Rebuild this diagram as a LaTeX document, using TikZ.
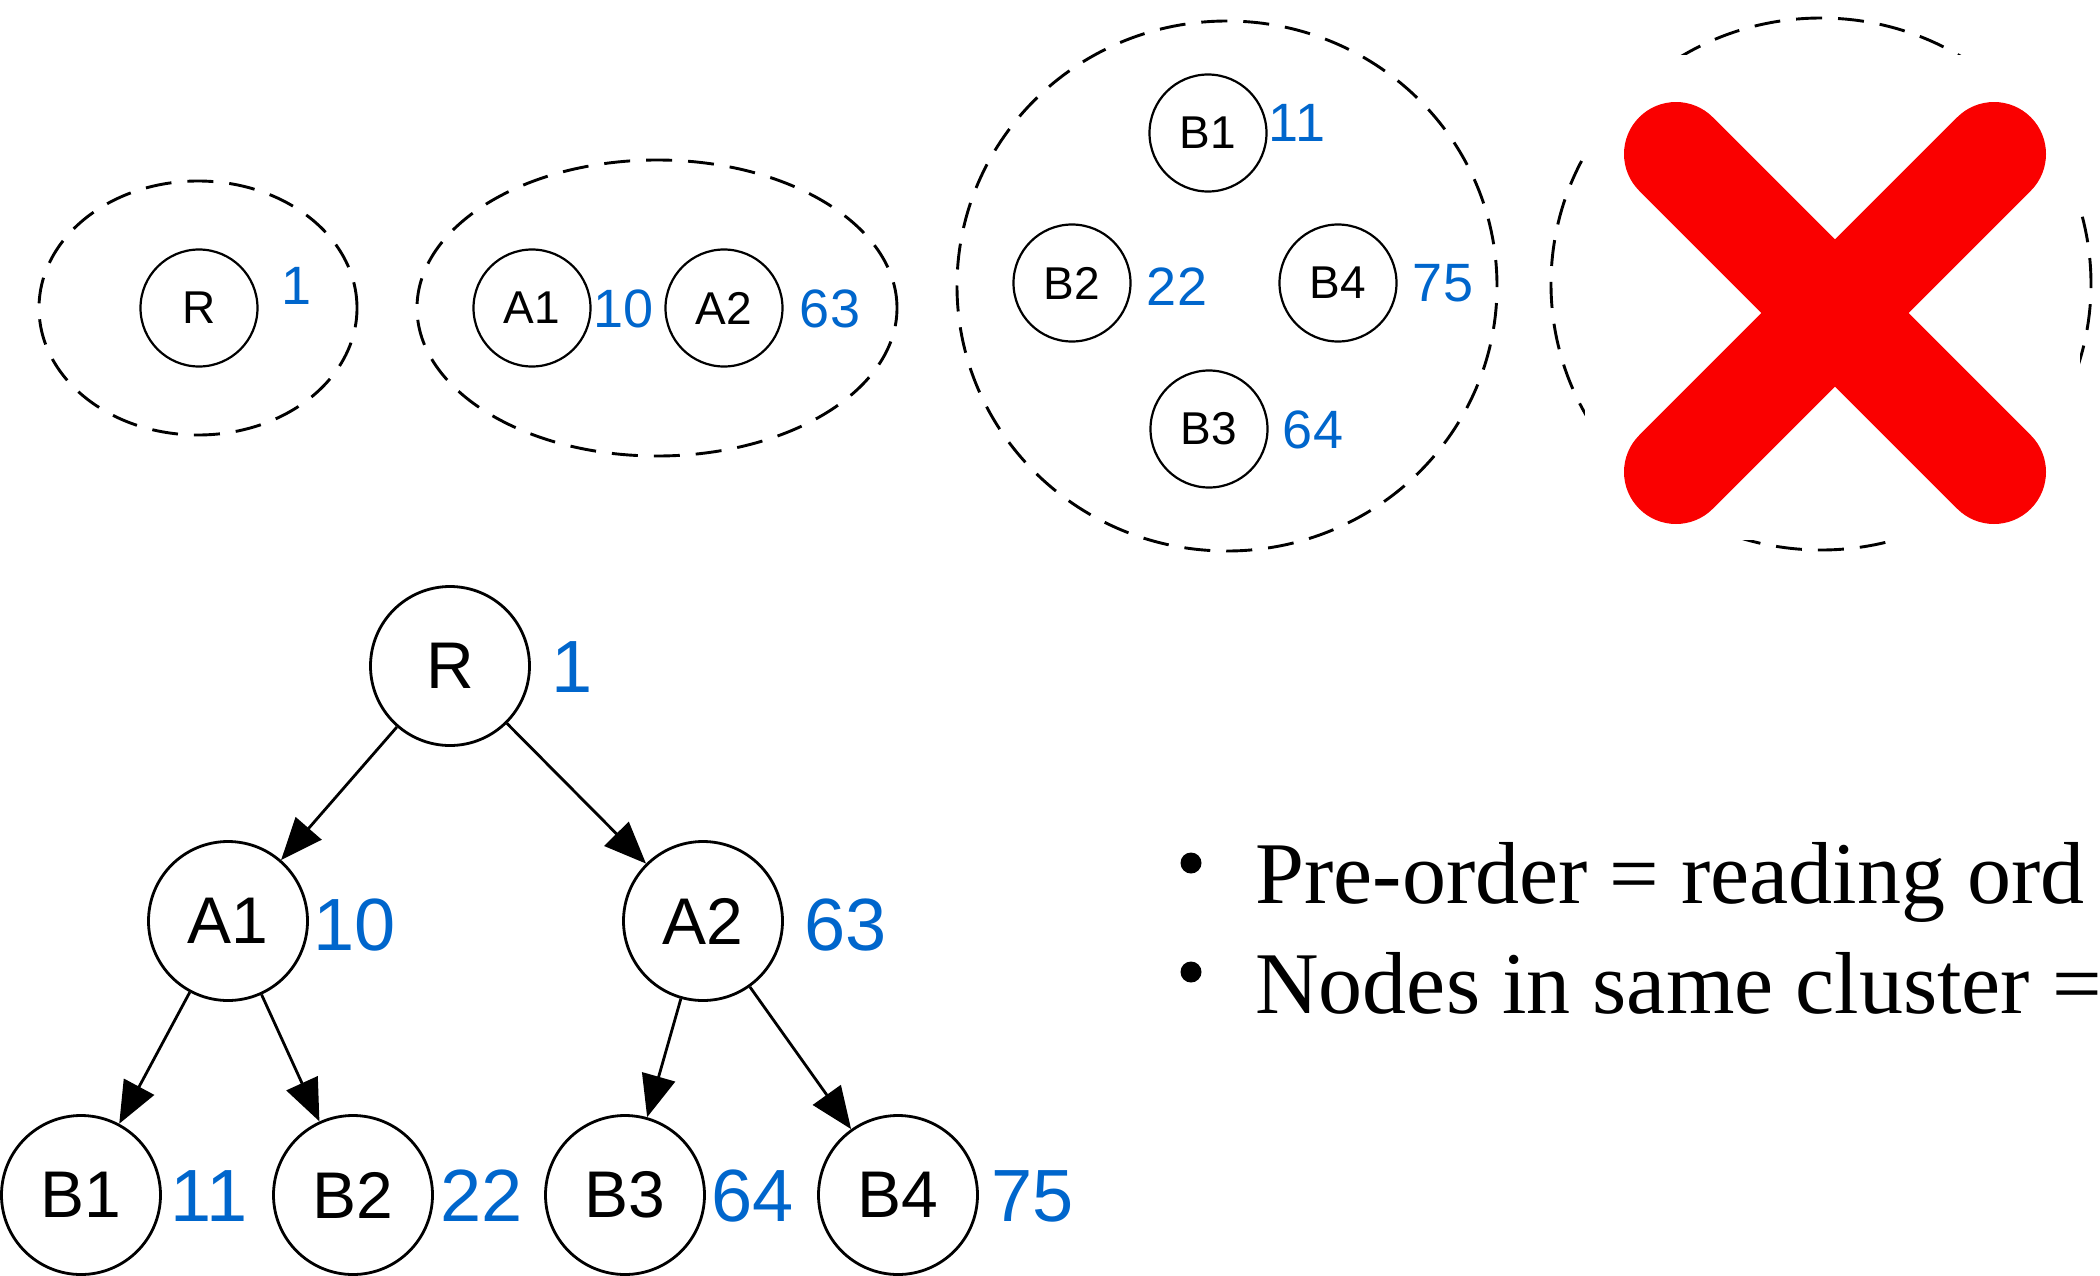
\documentclass[tikz,border=0pt]{standalone}
\usepackage{fontspec}
\setmainfont{Liberation Serif}
\newfontfamily\arialf{Liberation Sans}
\usetikzlibrary{shapes.geometric,arrows.meta}
\definecolor{numblue}{HTML}{0066CC}
\definecolor{xred}{HTML}{FA0000}
\begin{document}
\begin{tikzpicture}[x=0.5pt,y=-0.5pt,
  smallnode/.style={circle,draw,line width=1.1pt,minimum size=58.5pt,inner sep=0pt,font=\arialf\fontsize{23pt}{23pt}\selectfont},
  smallnum/.style={inner sep=0pt,text=numblue,font=\arialf\fontsize{27pt}{27pt}\selectfont},
  bignode/.style={circle,draw,line width=1.4pt,minimum size=79.5pt,inner sep=0pt,font=\arialf\fontsize{33pt}{33pt}\selectfont},
  bignum/.style={inner sep=0pt,text=numblue,font=\arialf\fontsize{37pt}{37pt}\selectfont},
  cluster/.style={ellipse,draw,line width=1.45pt,dash pattern=on 13pt off 8pt,inner sep=0pt},
  edge/.style={line width=1.4pt,-{Triangle[length=21pt,width=17pt]}},
  bullettext/.style={inner sep=0pt,anchor=base west,font=\fontsize{44pt}{44pt}\selectfont},
  bulletdot/.style={circle,fill=black,inner sep=0pt,minimum size=10.5pt}]
\useasboundingbox (0,0) rectangle (2100,1275);
\fill[white] (0,0) rectangle (2100,1275);

% ---- top row: clusters ----
\node[cluster,minimum width=159pt,minimum height=127pt] (cl1) at (198,308) {};
\node[smallnode] (r0) at (199,308) {R};
\node[smallnum] (r0n) at (297,286) {1};

\node[cluster,minimum width=240pt,minimum height=148pt] (cl2) at (657,308) {};
\node[smallnode] (a10) at (532,308) {A1};
\node[smallnum] (a10n) at (624,309) {10};
\node[smallnode] (a20) at (724,308) {A2};
\node[smallnum] (a20n) at (830,309) {63};

\node[cluster,minimum width=270pt,minimum height=265pt] (cl3) at (1227,286) {};
\node[smallnode] (b10) at (1208,133) {B1};
\node[smallnum] (b10n) at (1297,123) {11};
\node[smallnode] (b20) at (1072,283) {B2};
\node[smallnum] (b20n) at (1177,287) {22};
\node[smallnode] (b40) at (1338,283) {B4};
\node[smallnum] (b40n) at (1443,283) {75};
\node[smallnode] (b30) at (1209,429) {B3};
\node[smallnum] (b30n) at (1313,430) {64};

\node[cluster,minimum width=270pt,minimum height=266pt] (cl4) at (1821,284) {};
\fill[white] (1585,55) rectangle (2080,540);
\draw[xred,line width=52pt,line cap=round] (1676,154) -- (1994,472);
\draw[xred,line width=52pt,line cap=round] (1676,472) -- (1994,154);

% ---- tree ----
\node[bignode] (R) at (450,666) {R};
\node[bignum] (Rn) at (572,667) {1};
\node[bignode] (A1) at (228,921) {A1};
\node[bignum] (A1n) at (355,925) {10};
\node[bignode] (A2) at (703,921) {A2};
\node[bignum] (A2n) at (846,925) {63};
\node[bignode] (B1) at (81,1195) {B1};
\node[bignum] (B1n) at (209,1196) {11};
\node[bignode] (B2) at (353,1195) {B2};
\node[bignum] (B2n) at (482,1196) {22};
\node[bignode] (B3) at (625,1195) {B3};
\node[bignum] (B3n) at (753,1196) {64};
\node[bignode] (B4) at (898,1195) {B4};
\node[bignum] (B4n) at (1033,1196) {75};

\draw[edge] (R) -- (A1);
\draw[edge] (R) -- (A2);
\draw[edge] (A1) -- (B1);
\draw[edge] (A1) -- (B2);
\draw[edge] (A2) -- (B3);
\draw[edge] (A2) -- (B4);

% ---- bullet text ----
\node[bulletdot] (d1) at (1191,863) {};
\node[bullettext] (t1) at (1255,903) {Pre-order = reading ord};
\node[bulletdot] (d2) at (1191,972) {};
\node[bullettext] (t2) at (1255,1013) {Nodes in same cluster =};
\end{tikzpicture}
\end{document}
